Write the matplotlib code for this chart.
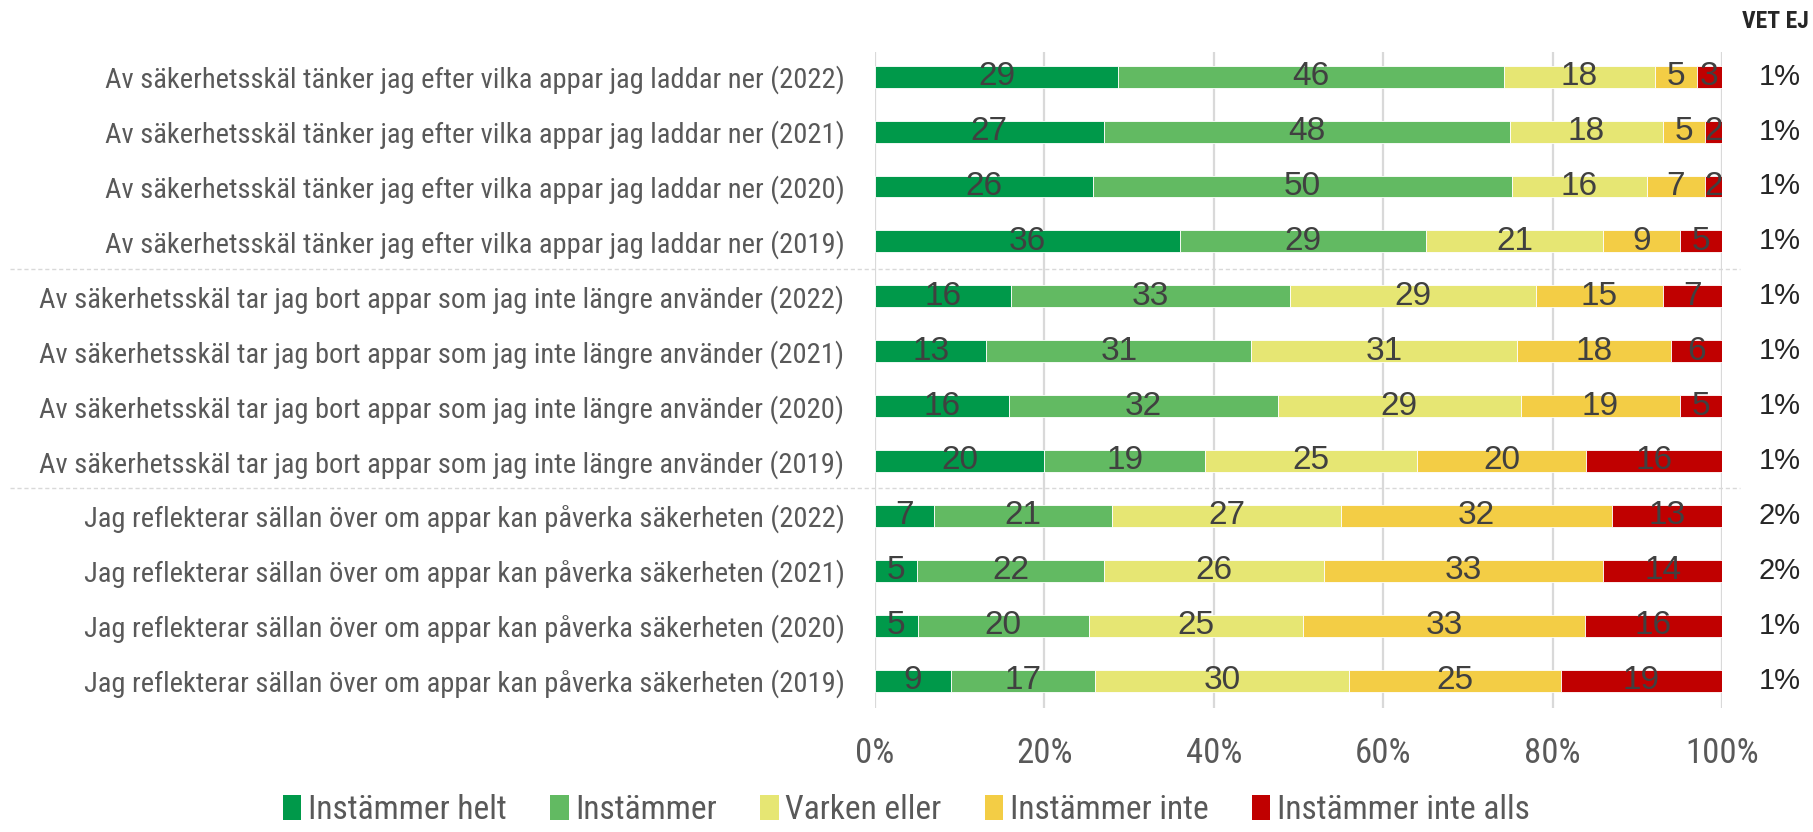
import matplotlib
matplotlib.use("Agg")
import matplotlib.pyplot as plt
from matplotlib import font_manager
from matplotlib.transforms import blended_transform_factory
from matplotlib.patches import Patch
import numpy as np

categories = [
    "Av säkerhetsskäl tänker jag efter vilka appar jag laddar ner (2022)",
    "Av säkerhetsskäl tänker jag efter vilka appar jag laddar ner (2021)",
    "Av säkerhetsskäl tänker jag efter vilka appar jag laddar ner (2020)",
    "Av säkerhetsskäl tänker jag efter vilka appar jag laddar ner (2019)",
    "Av säkerhetsskäl tar jag bort appar som jag inte längre använder (2022)",
    "Av säkerhetsskäl tar jag bort appar som jag inte längre använder (2021)",
    "Av säkerhetsskäl tar jag bort appar som jag inte längre använder (2020)",
    "Av säkerhetsskäl tar jag bort appar som jag inte längre använder (2019)",
    "Jag reflekterar sällan över om appar kan påverka säkerheten (2022)",
    "Jag reflekterar sällan över om appar kan påverka säkerheten (2021)",
    "Jag reflekterar sällan över om appar kan påverka säkerheten (2020)",
    "Jag reflekterar sällan över om appar kan påverka säkerheten (2019)",
]
series_names = ["Instämmer helt", "Instämmer", "Varken eller", "Instämmer inte", "Instämmer inte alls"]
instammer_helt = [29, 27, 26, 36, 16, 13, 16, 20, 7, 5, 5, 9]
instammer = [46, 48, 50, 29, 33, 31, 32, 19, 21, 22, 20, 17]
varken_eller = [18, 18, 16, 21, 29, 31, 29, 25, 27, 26, 25, 30]
instammer_inte = [5, 5, 7, 9, 15, 18, 19, 20, 32, 33, 33, 25]
instammer_inte_alls = [3, 2, 2, 5, 7, 6, 5, 16, 13, 14, 16, 19]
vet_ej = [1, 1, 1, 1, 1, 1, 1, 1, 2, 2, 1, 1]
xtick_labels = ["0%", "20%", "40%", "60%", "80%", "100%"]

colors = ["#00994A", "#62BA62", "#E6E673", "#F3CD45", "#C00000"]

available = {f.name for f in font_manager.fontManager.ttflist}
narrow_choice = None
for cand in ["Liberation Sans Narrow", "Roboto Condensed", "Open Sans Condensed",
             "DejaVu Sans Condensed", "Noto Sans Condensed"]:
    if cand in available:
        narrow_choice = cand
        break
if narrow_choice is None:
    narrow_choice = "Liberation Sans"
NARROW = [narrow_choice, "DejaVu Sans"]
REG = ["Liberation Sans", "DejaVu Sans"]
txt_gray = "#595959"
num_gray = "#404040"

fig = plt.figure(figsize=(18.13, 8.32), dpi=100)
ax = fig.add_axes([875/1813, 1-708/832, (1722-875)/1813, (708-52)/832])

data = np.array([instammer_helt, instammer, varken_eller, instammer_inte, instammer_inte_alls], dtype=float)
totals = data.sum(axis=0)
shares = data / totals * 100
y = np.arange(len(categories))
left = np.zeros(len(categories))
for i in range(len(series_names)):
    ax.barh(y, shares[i], left=left, height=0.4, color=colors[i], edgecolor="white",
            linewidth=0.6, label=series_names[i], zorder=3)
    for j in range(len(categories)):
        ax.text(left[j] + shares[i][j]/2, y[j], f"{int(data[i][j])}", ha="center", va="center",
                fontsize=24, color=num_gray, family=REG, zorder=4)
    left += shares[i]

ax.set_xlim(0, 100)
ax.set_ylim(11.5, -0.45)
ax.set_xticks([0, 20, 40, 60, 80, 100])
ax.set_xticklabels(xtick_labels, fontsize=25, color=txt_gray, family=NARROW)
ax.set_yticks(y)
ax.set_yticklabels(categories, fontsize=20.5, color=txt_gray, family=NARROW)
ax.tick_params(axis="y", length=0, pad=22)
ax.tick_params(axis="x", length=0, pad=21)
for s in ax.spines.values():
    s.set_visible(False)
ax.xaxis.grid(True, color="#D9D9D9", linewidth=1.6, zorder=0)
ax.set_axisbelow(True)

trans = blended_transform_factory(fig.transFigure, ax.transData)
for sep in [3.5, 7.5]:
    ax.plot([10/1813, 1740/1813], [sep, sep], transform=trans, color="#D9D9D9",
            linestyle=(0, (3, 2)), linewidth=1.0, clip_on=False, zorder=1)

for j, v in enumerate(vet_ej):
    ax.text(1780/1813, y[j], f"{v}%", transform=trans, ha="center", va="center",
            fontsize=21, color="#262626", family=REG)
fig.text(1775/1813, 1-22/832, "VET EJ", ha="center", va="center", fontsize=17,
         fontweight="bold", color="#262626", family=NARROW)

handles = [Patch(facecolor=c, edgecolor="none") for c in colors]
fig.legend(handles, series_names, loc="center", bbox_to_anchor=(0.5, 1-810/832), ncol=5,
           frameon=False, prop={"family": NARROW, "size": 24}, labelcolor=txt_gray,
           handlelength=0.55, handleheight=0.8, handletextpad=0.2, columnspacing=1.3,
           borderpad=0.1)

fig.savefig("out.png", dpi=100)
